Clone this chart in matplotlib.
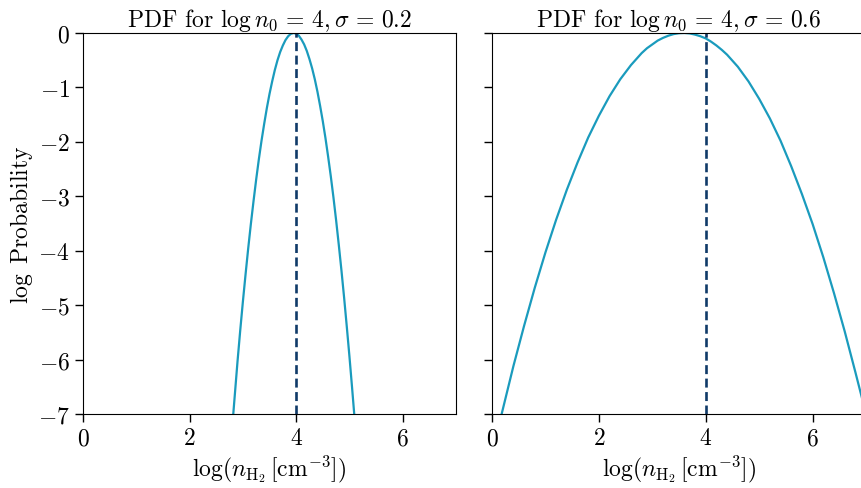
import matplotlib
matplotlib.use("Agg")
import matplotlib.pyplot as plt

plt.rcParams["font.family"] = "serif"
plt.rcParams["font.serif"] = ["cmr10"]
plt.rcParams["mathtext.fontset"] = "cm"
plt.rcParams["axes.formatter.use_mathtext"] = True
plt.rcParams["font.size"] = 17

# left panel: log n0 = 4, sigma = 0.2
x_narrow = [2.82, 2.9, 2.95, 3.0, 3.05, 3.1, 3.15, 3.2, 3.25, 3.3, 3.35, 3.4,
            3.45, 3.5, 3.55, 3.6, 3.65, 3.7, 3.75, 3.8, 3.85, 3.9, 3.95, 4.0,
            4.05, 4.1, 4.15, 4.2, 4.25, 4.3, 4.35, 4.4, 4.45, 4.5, 4.55, 4.6,
            4.65, 4.7, 4.75, 4.8, 4.85, 4.9, 4.95, 5.0, 5.05, 5.09]
y_narrow = [-7.0, -6.03, -5.47, -4.94, -4.44, -3.96, -3.51, -3.09, -2.69, -2.32,
            -1.98, -1.67, -1.38, -1.12, -0.89, -0.68, -0.50, -0.35, -0.23, -0.13,
            -0.06, -0.016, 0.0, -0.011, -0.05, -0.12, -0.21, -0.33, -0.48, -0.65,
            -0.85, -1.08, -1.34, -1.62, -1.93, -2.27, -2.63, -3.02, -3.44, -3.89,
            -4.36, -4.86, -5.39, -5.94, -6.52, -7.0]

# right panel: log n0 = 4, sigma = 0.6
x_wide = [0.18, 0.4, 0.6, 0.8, 1.0, 1.2, 1.4, 1.6, 1.8, 2.0, 2.2, 2.4, 2.6, 2.8,
          2.9, 3.0, 3.1, 3.2, 3.3, 3.4, 3.5, 3.6, 3.7, 3.8, 3.9, 4.0, 4.1, 4.2,
          4.3, 4.4, 4.6, 4.8, 5.0, 5.2, 5.4, 5.6, 5.8, 6.0, 6.2, 6.4, 6.6, 6.8, 7.0]
y_wide = [-7.0, -6.12, -5.38, -4.68, -4.03, -3.43, -2.88, -2.38, -1.92, -1.52,
          -1.16, -0.85, -0.59, -0.37, -0.28, -0.21, -0.14, -0.09, -0.05, -0.02,
          -0.004, 0.0, -0.008, -0.03, -0.06, -0.10, -0.16, -0.23, -0.31, -0.40,
          -0.62, -0.89, -1.21, -1.57, -1.98, -2.45, -2.96, -3.51, -4.12, -4.78,
          -5.48, -6.23, -7.0]

log_n0 = 4
sigmas = ["0.2", "0.6"]

curve_color = "#1a9bbd"
mean_color = "#103a68"

fig = plt.figure(figsize=(8.62, 4.89), dpi=100)
ax1 = fig.add_axes([0.0963, 0.1513, 0.4327, 0.7792])
ax2 = fig.add_axes([0.5708, 0.1513, 0.4339, 0.7792])

for ax, xs, ys, sig in [(ax1, x_narrow, y_narrow, sigmas[0]),
                        (ax2, x_wide, y_wide, sigmas[1])]:
    ax.plot(xs, ys, color=curve_color, lw=1.6)
    ax.plot([log_n0, log_n0], [-7, 0], color=mean_color, lw=1.9,
            ls=(0, (3.4, 1.7)))
    ax.set_xlim(0, 7)
    ax.set_ylim(-7, 0)
    ax.set_xticks([0, 2, 4, 6])
    ax.set_yticks(range(-7, 1))
    ax.tick_params(direction="out", length=6, width=1)
    ax.set_title(r"PDF for $\log n_0 \,=\, 4, \sigma \,=\, %s$" % sig,
                 fontsize=17, pad=3)
    ax.set_xlabel(r"$\log(n_{\rm H_2}\,[{\rm cm}^{-3}])$", labelpad=2)

ax1.set_ylabel(r"$\log\ \mathrm{Probability}$", labelpad=2)
ax2.set_yticklabels([])

fig.savefig("out.png", dpi=100)
